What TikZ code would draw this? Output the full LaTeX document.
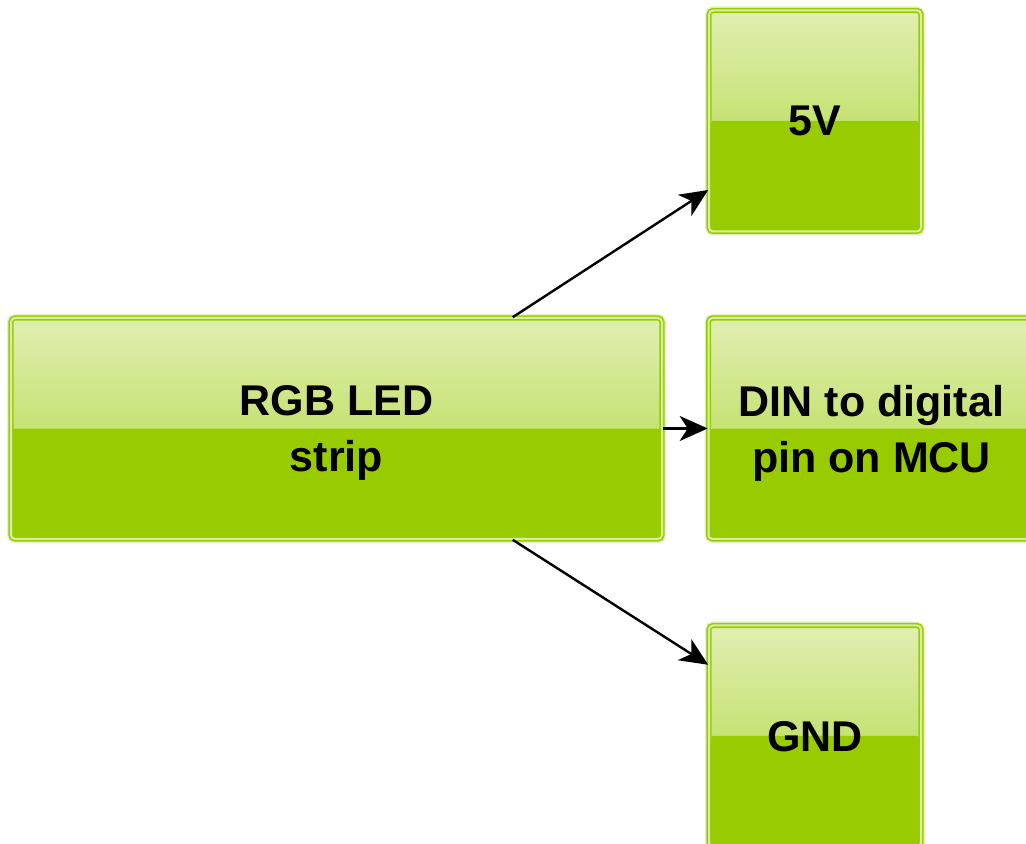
\documentclass[tikz,border=0pt]{standalone}
\usepackage{fontspec}
\setmainfont{Liberation Sans}
\usepackage{xcolor}
\usetikzlibrary{arrows.meta,positioning,calc}

\definecolor{leaftop}{HTML}{E0EFB2}
\definecolor{leafmid}{HTML}{ACD536}
\definecolor{leafbot}{HTML}{99CC00}
\definecolor{leafrim}{HTML}{D9EDA6}
\definecolor{leafhalo}{HTML}{E6F3C6}

\begin{document}
\begin{tikzpicture}[
    x=0.5pt, y=0.5pt,
    box/.style={rounded corners=2pt, minimum width=106pt, minimum height=110.5pt,
        font=\fontsize{21.5}{28}\selectfont\bfseries, align=center, inner sep=0pt, text depth=0pt,
        draw=leafbot, line width=0.8pt, double=leafrim, double distance=1pt,
        preaction={draw=leafhalo, line width=4pt},
        path picture={
            \shade[top color=leaftop, bottom color=leafmid]
                (path picture bounding box.north west) rectangle (path picture bounding box.east);
            \fill[leafbot] (path picture bounding box.west) rectangle (path picture bounding box.south east);
        }},
    arr/.style={-{Stealth[length=14pt, width=12.5pt, inset=4pt]}, line width=1.2pt}
]
\useasboundingbox (0,0) rectangle (1026,844);

\node[box, minimum width=325.5pt] (rgb) at (336.5,415.5) {RGB LED\\strip};
\node[box] (v5) at (815,723) {5V};
\node[box, minimum width=163pt] (din) at (871.5,415.5) {DIN to digital\\pin on MCU};
\node[box] (gnd) at (815,108) {GND};

\draw[arr] ($(rgb.north west)!0.77!(rgb.north east)$) -- ($(v5.south west)!0.19!(v5.north west)$);
\draw[arr] (rgb.east) -- (din.west);
\draw[arr] ($(rgb.south west)!0.77!(rgb.south east)$) -- ($(gnd.north west)!0.18!(gnd.south west)$);
\end{tikzpicture}
\end{document}
